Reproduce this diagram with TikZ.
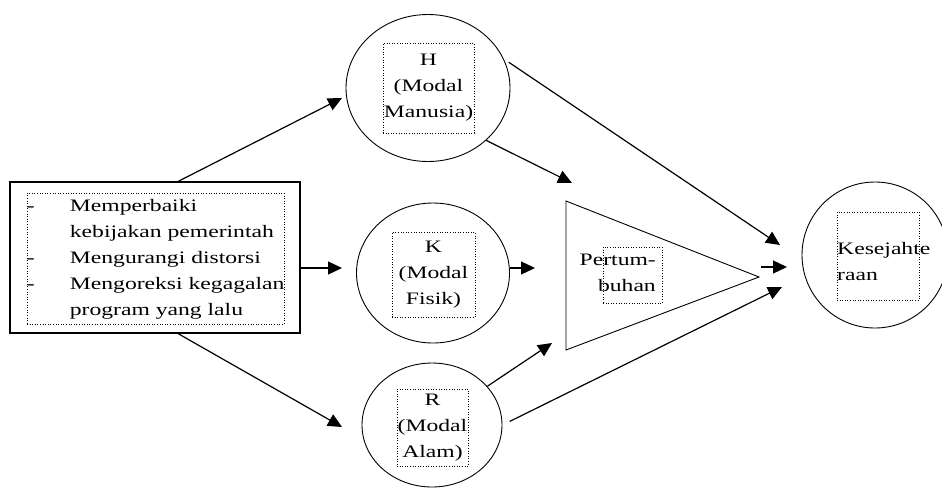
\documentclass[tikz,border=0pt]{standalone}
\usepackage{fontspec}
\setmainfont{Liberation Serif}[FakeStretch=1.35]
\usetikzlibrary{shapes.geometric, arrows.meta, positioning}

\begin{document}
\begin{tikzpicture}[x=1pt, y=-1pt,
  every node/.style={font=\fontsize{17.5}{26}\selectfont},
  mainBox/.style={draw, line width=1.1pt, minimum width=290pt, minimum height=151pt, inner sep=0pt},
  capital/.style={ellipse, draw, line width=0.9pt, inner sep=0pt},
  dotBox/.style={draw, dotted, line width=0.6pt, inner sep=0pt, align=center},
  txt/.style={inner sep=0pt},
  arrowLine/.style={-{Triangle[length=14pt, width=13pt]}, line width=1.2pt},
]
  \useasboundingbox (0,0) rectangle (942,488);

% Policy box
  \node[mainBox] (policy) at (155,257.5) {};
  \node[dotBox, minimum width=257pt, minimum height=131pt] (policyIn) at (155.5,258.5) {};
  \node[txt, anchor=west] (policyTxt) at (policyIn.west) {\begin{tabular}{@{}p{43pt}@{}l@{}}
    - & Memperbaiki\\
      & kebijakan pemerintah\\
    - & Mengurangi distorsi\\
    - & Mengoreksi kegagalan\\
      & program yang lalu
  \end{tabular}};

% Capitals
  \node[capital, minimum width=164pt, minimum height=147pt] (H) at (428,88) {};
  \node[dotBox, minimum width=91pt, minimum height=90pt] (HIn) at (428.5,88) {H\\(Modal\\Manusia)};
  \node[capital, minimum width=153pt, minimum height=140pt] (K) at (433,273) {};
  \node[dotBox, minimum width=83pt, minimum height=85pt] (KIn) at (433.5,274.5) {K\\(Modal\\Fisik)};
  \node[capital, minimum width=140pt, minimum height=124pt] (R) at (432,425) {};
  \node[dotBox, minimum width=71pt, minimum height=77pt] (RIn) at (432.5,427.5) {R\\(Modal\\Alam)};

% Growth triangle
  \coordinate (triTop) at (566,201);
  \coordinate (triTip) at (759,277);
  \coordinate (triBot) at (566,350);
  \draw[line width=0.9pt] (triTop) -- (triTip) -- (triBot) -- cycle;
  \node[dotBox, minimum width=59pt, minimum height=56pt] (growthIn) at (632.5,275) {};
  \node[txt, anchor=east, align=right] (growthTxt) at (656,273) {Pertum-\\buhan};

% Welfare
  \node[capital, minimum width=146pt, minimum height=146pt] (welfare) at (875,255) {};
  \node[dotBox, minimum width=82pt, minimum height=88pt] (welfareIn) at (878,256) {};
  \node[txt, anchor=west, align=left] (welfareTxt) at (837,262) {Kesejahte\\raan};

% arrow ends
  \coordinate (hIn) at (342,98);
  \coordinate (kIn) at (342,268);
  \coordinate (rIn) at (342,427);
  \coordinate (growthInA) at (572,183);
  \coordinate (growthInB) at (535,268);
  \coordinate (growthInC) at (552,343);
  \coordinate (growthOut) at (761,267);
  \coordinate (welfareInA) at (780,245);
  \coordinate (welfareInB) at (787,267);
  \coordinate (welfareInC) at (782,287);

% edges
  \draw[arrowLine] ([xshift=23pt]policy.north) -- (hIn);
  \draw[arrowLine] (policy.east |- kIn) -- (kIn);
  \draw[arrowLine] ([xshift=23pt]policy.south) -- (rIn);
  \draw[arrowLine] (H.-42) -- (growthInA);
  \draw[arrowLine, shorten <=6pt] (H.21) -- (welfareInA);
  \draw[arrowLine] (K.east |- growthInB) -- (growthInB);
  \draw[arrowLine] (R.35) -- (growthInC);
  \draw[arrowLine, shorten <=8pt] (R.east) -- (welfareInC);
  \draw[arrowLine] (growthOut) -- (welfareInB);
\end{tikzpicture}
\end{document}
